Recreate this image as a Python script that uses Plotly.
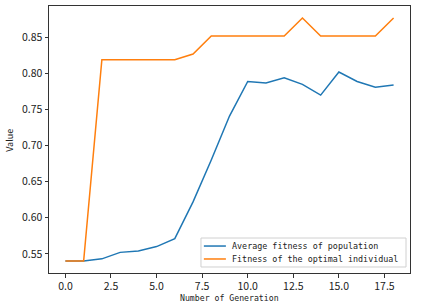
import plotly.graph_objects as go

generations = list(range(19))
avg_fitness = [0.540, 0.540, 0.543, 0.552, 0.554, 0.560, 0.571, 0.622, 0.680, 0.741,
               0.789, 0.787, 0.794, 0.785, 0.770, 0.802, 0.789, 0.781, 0.784]
best_fitness = [0.540, 0.540, 0.819, 0.819, 0.819, 0.819, 0.819, 0.827, 0.852, 0.852,
                0.852, 0.852, 0.852, 0.877, 0.852, 0.852, 0.852, 0.852, 0.877]
series_names = ["Average fitness of population", "Fitness of the optimal individual"]
x_ticks = [0.0, 2.5, 5.0, 7.5, 10.0, 12.5, 15.0, 17.5]
y_ticks = [0.55, 0.60, 0.65, 0.70, 0.75, 0.80, 0.85]

mono = "DejaVu Sans Mono"
colors = ["#1f77b4", "#ff7f0e"]

fig = go.Figure()
for name, vals, col in zip(series_names, [avg_fitness, best_fitness], colors):
    fig.add_trace(go.Scatter(x=generations, y=vals, mode="lines", name=name,
                             line=dict(color=col, width=1.5), showlegend=False))

axis_common = dict(showline=True, mirror=True, linecolor="#333333", linewidth=1,
                   showgrid=False, zeroline=False, ticks="outside", ticklen=3.5,
                   tickcolor="#333333", automargin=False,
                   tickfont=dict(family="Noto Sans CJK SC", size=10.5, color="#222"))

fig.update_xaxes(range=[-0.9, 18.9], tickvals=x_ticks,
                 ticktext=[f"{v:.1f}" for v in x_ticks], **axis_common)
fig.update_yaxes(range=[0.5234, 0.8936], tickvals=y_ticks,
                 ticktext=[f"{v:.2f}" for v in y_ticks], **axis_common)

fig.add_annotation(text="Number of Generation", xref="paper", yref="paper",
                   x=0.5, y=-0.092, xanchor="center", yanchor="middle", showarrow=False,
                   font=dict(family=mono, size=8.2, color="#222"))
fig.add_annotation(text="Value", xref="paper", yref="paper", textangle=-90,
                   x=-0.108, y=0.495, xanchor="center", yanchor="middle", showarrow=False,
                   font=dict(family="Noto Sans CJK SC", size=9, color="#222"))

# legend (matplotlib style)
fig.add_shape(type="rect", xref="paper", yref="paper", x0=0.421, x1=0.989, y0=0.0225, y1=0.131,
              line=dict(color="#d0d0d0", width=1), fillcolor="rgba(255,255,255,0.8)", layer="above")
for i, (name, col) in enumerate(zip(series_names, colors)):
    yy = 0.101 - i * 0.0485
    fig.add_shape(type="line", xref="paper", yref="paper", x0=0.429, x1=0.490, y0=yy, y1=yy,
                  line=dict(color=col, width=1.5), layer="above")
    fig.add_annotation(text=name, xref="paper", yref="paper", x=0.501, y=yy,
                       xanchor="left", yanchor="middle", showarrow=False,
                       font=dict(family=mono, size=8.4, color="#222"))

fig.update_layout(
    width=426, height=306,
    margin=dict(l=49, r=16, t=6, b=33, autoexpand=False),
    plot_bgcolor="white", paper_bgcolor="white",
    showlegend=False,
)

fig.write_html("out.html", config={"displayModeBar": False},
               post_script="document.body.style.margin='0';document.body.style.padding='0';")
